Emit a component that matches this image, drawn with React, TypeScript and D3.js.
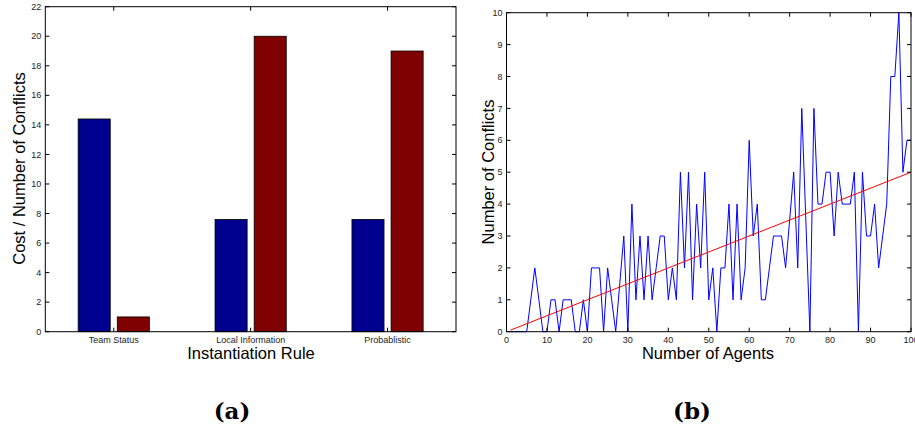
import React from 'react'
import * as d3 from 'd3'

// (a) bar chart data
const categories = ['Team Status', 'Local Information', 'Probablistic']
const series = ['cost', 'conflicts']
const costValues = [14.4, 7.6, 7.6]
const conflictValues = [1, 20, 19]
const barTicks = [0, 2, 4, 6, 8, 10, 12, 14, 16, 18, 20, 22]

// (b) line chart data, agents 1..100
const agentConflicts = [
    0, 0, 0, 0, 0, 1, 2, 1, 0, 0,
    1, 1, 0, 1, 1, 1, 0, 0, 1, 0,
    2, 2, 2, 0, 2, 1, 0, 1.5, 3, 0,
    4, 1, 3, 1, 3, 1, 2, 3, 3, 1,
    2, 1, 5, 2, 5, 1, 4, 2, 5, 1,
    2, 0, 2, 2, 4, 1, 4, 1, 2, 6,
    3, 4, 1, 1, 2, 3, 3, 3, 2, 3.5,
    5, 2, 7, 3.5, 0, 7, 4, 4, 5, 5,
    3, 5, 4, 4, 4, 5, 0, 5, 3, 3,
    4, 2, 3, 4, 8, 8, 10, 5, 6, 6,
]
const trendPoints: [number, number][] = [[1, 0.05], [100, 5]]
const agentTicks = [0, 10, 20, 30, 40, 50, 60, 70, 80, 90, 100]
const conflictTicks = [0, 1, 2, 3, 4, 5, 6, 7, 8, 9, 10]

const BLUE = '#00008f'
const RED = '#7f0000'
const FONT = '"Liberation Sans", Arial, sans-serif'

export default function App() {
    const W = 915
    const H = 430
    const a = { l: 45.3, r: 456, t: 6.7, b: 331.7 }
    const b = { l: 506.5, r: 911, t: 12.7, b: 331.7 }
    const tk = 4

    const x0 = d3.scaleBand().domain(categories).range([a.l, a.r])
    const x1 = d3.scaleBand().domain(series)
        .range([x0.bandwidth() * 0.24, x0.bandwidth() * 0.76])
        .paddingInner(0.18)
    const yA = d3.scaleLinear().domain([0, 22]).range([a.b, a.t])

    const xB = d3.scaleLinear().domain([0, 100]).range([b.l, b.r])
    const yB = d3.scaleLinear().domain([0, 10]).range([b.b, b.t])
    const line = d3.line<[number, number]>().x(d => xB(d[0])).y(d => yB(d[1]))
    const pts: [number, number][] = agentConflicts.map((v, i) => [i + 1, v])

    return (
        <svg width={W} height={H} style={{ position: 'absolute', left: 0, top: 0, background: '#fff' }}
            fontFamily={FONT}>
            {/* ---- (a) ---- */}
            {categories.map((c, i) => (
                <g key={c} transform={`translate(${x0(c)},0)`}>
                    {[costValues[i], conflictValues[i]].map((v, j) => (
                        <rect key={j} x={x1(series[j])} width={x1.bandwidth()}
                            y={yA(v)} height={yA(0) - yA(v)}
                            fill={j === 0 ? BLUE : RED} stroke="#000" strokeWidth={0.8} />
                    ))}
                </g>
            ))}
            <rect x={a.l} y={a.t} width={a.r - a.l} height={a.b - a.t} fill="none" stroke="#000" strokeWidth={1} />
            {barTicks.map(t => (
                <g key={t}>
                    <line x1={a.l} x2={a.l + tk} y1={yA(t)} y2={yA(t)} stroke="#000" />
                    <line x1={a.r} x2={a.r - tk} y1={yA(t)} y2={yA(t)} stroke="#000" />
                    <text x={a.l - 4} y={yA(t)} dy="0.35em" textAnchor="end" fontSize={9} fill="#222">{t}</text>
                </g>
            ))}
            {categories.map(c => {
                const cx = (x0(c) as number) + x0.bandwidth() / 2
                return (
                    <g key={c}>
                        <line x1={cx} x2={cx} y1={a.b} y2={a.b - tk} stroke="#000" />
                        <line x1={cx} x2={cx} y1={a.t} y2={a.t + tk} stroke="#000" />
                        <text x={cx} y={343} textAnchor="middle" fontSize={9} fill="#222">{c}</text>
                    </g>
                )
            })}
            <text x={251} y={359} textAnchor="middle" fontSize={16.5}>Instantiation Rule</text>
            <text transform="translate(19,168.5) rotate(-90)" textAnchor="middle" dominantBaseline="central" fontSize={16.5}>
                Cost / Number of Conflicts
            </text>

            {/* ---- (b) ---- */}
            <path d={line(pts) || ''} fill="none" stroke="#0000ff" strokeWidth={1} />
            <path d={line(trendPoints) || ''} fill="none" stroke="#ff0000" strokeWidth={1} />
            <rect x={b.l} y={b.t} width={b.r - b.l} height={b.b - b.t} fill="none" stroke="#000" strokeWidth={1} />
            {conflictTicks.map(t => (
                <g key={t}>
                    <line x1={b.l} x2={b.l + tk} y1={yB(t)} y2={yB(t)} stroke="#000" />
                    <line x1={b.r} x2={b.r - tk} y1={yB(t)} y2={yB(t)} stroke="#000" />
                    <text x={b.l - 4} y={yB(t)} dy="0.35em" textAnchor="end" fontSize={9} fill="#222">{t}</text>
                </g>
            ))}
            {agentTicks.map(t => (
                <g key={t}>
                    <line x1={xB(t)} x2={xB(t)} y1={b.b} y2={b.b - tk} stroke="#000" />
                    <line x1={xB(t)} x2={xB(t)} y1={b.t} y2={b.t + tk} stroke="#000" />
                    <text x={xB(t)} y={343} textAnchor="middle" fontSize={9} fill="#222">{t}</text>
                </g>
            ))}
            <text x={708} y={359} textAnchor="middle" fontSize={16.5}>Number of Agents</text>
            <text transform="translate(488,172) rotate(-90)" textAnchor="middle" dominantBaseline="central" fontSize={16.5}>
                Number of Conflicts
            </text>

            {/* captions */}
            <text x={232} y={419} textAnchor="middle" fontSize={23} fontWeight="bold" fontFamily='"DejaVu Serif", serif'>(a)</text>
            <text x={692} y={419} textAnchor="middle" fontSize={23} fontWeight="bold" fontFamily='"DejaVu Serif", serif'>(b)</text>
        </svg>
    )
}
